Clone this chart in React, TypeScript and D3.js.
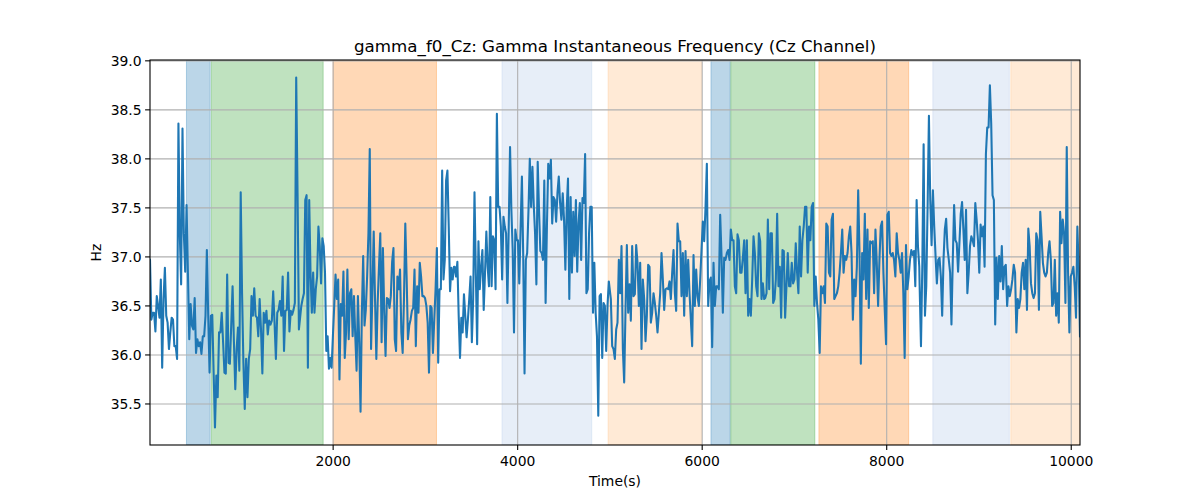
import { useEffect, useRef } from 'react';
import * as d3 from 'd3';

// Gamma f0 (Hz), muestreo uniforme dentro de cada tramo
const hzPart1 = [
  36.97, 36.36, 36.43, 36.43, 36.24, 36.6, 36.5, 36.38, 36.77, 35.87,
  36.57, 36.89, 36.4, 36.33, 36.06, 36.23, 36.38, 36.36, 36.09, 36.09,
  35.96, 38.36, 37.24, 36.72, 38.31, 37.24, 36.85, 37.53, 36.84, 36.16,
  36.52, 36.3, 36.26, 36.58, 36.02, 36.16, 36.09, 36.13, 36.01, 36.19,
  36.19, 36.4, 37.07, 36.4, 35.82, 36.4, 36.41, 35.82, 35.26, 35.79,
  35.57, 36.23, 36.23, 36.43, 36.13, 35.82, 35.81, 36.82, 35.92, 35.91,
  36.3, 36.7, 36.13, 35.65, 36.06, 36.28, 35.84, 37.66, 36.63, 35.92,
  35.45, 35.96, 35.57, 35.96, 36.06, 36.6, 36.4, 36.68, 36.4, 36.38,
  36.19, 36.57, 36.26, 35.81, 36.43, 36.33, 36.45, 36.21, 36.35, 36.31,
  36.35, 36.65, 36.33, 35.96, 36.43, 36.46, 36.55, 36.4, 36.8, 36.04,
  36.45, 36.46, 36.84, 36.24, 36.45, 36.41, 36.46, 36.53, 38.83, 37.65,
  36.26,
];
const hzPart2 = [
  36.5, 36.57, 36.63, 37.58, 37.63, 35.87, 37.58, 36.84, 36.43, 36.84,
  36.43, 36.67, 36.8, 37.31, 37.11, 36.73, 37.19, 37.11, 36.84, 36.04,
  36.19, 35.86, 35.97, 35.87, 36.19, 36.5, 36.82, 36.57, 36.77, 35.75,
  36.52, 36.4, 36.85, 35.97, 36.23, 36.87, 36.16, 36.63, 36.67, 36.19,
  36.6, 36.19, 35.84, 36.6, 36.13, 35.42, 36.43, 37.01, 36.3, 36.46,
  36.8, 37.24, 38.1, 36.06, 36.63, 37.26, 36.57, 35.96, 36.53, 36.9,
  37.24, 36.13, 37.09, 36.43, 35.99, 36.58, 36.57, 36.48, 36.6, 36.95,
  37.09, 36.16, 36.04, 36.8, 36.67, 36.87, 36.23, 36.02, 36.57, 37.34,
  36.8, 36.16, 36.3, 36.36, 36.45, 36.48, 36.87, 36.09, 36.7, 36.43,
  36.94, 36.8, 36.6, 36.6, 36.58, 36.5, 36.33, 35.82, 36.5, 36.48,
  36.02, 36.36, 36.67, 37.09, 35.92, 36.67, 36.67, 37.88, 36.77, 36.97,
  37.78, 37.88, 37.31, 36.65, 36.89, 36.77, 36.9,
];
const hzPart3 = [
  36.9, 36.8, 36.95, 36.4, 35.97, 36.38, 36.23, 36.62, 36.4, 36.18,
  36.36, 36.57, 36.8, 36.13, 36.57, 37.66, 36.84, 36.11, 37.16, 36.67,
  36.9, 37.07, 36.46, 36.84, 37.26, 36.9, 36.7, 37.61, 36.7, 37.21,
  37.17, 36.67, 38.46, 37.51, 37.51, 37.31, 36.77, 37.41, 37.31, 37.24,
  36.53, 37.31, 38.12, 37.48, 37.07, 36.23, 37.28, 37.17, 37.17, 36.73,
  37.29, 37.82, 37.01, 35.81, 36.97, 37.04, 37.48, 38.0, 37.51, 37.92,
  37.53, 37.24, 36.72, 37.97, 37.48, 37.06, 37.04, 36.97, 37.78, 36.53,
  37.31, 37.95, 37.8, 37.99, 37.34, 37.61, 37.58, 37.36, 37.65, 37.82,
  37.55, 37.38, 37.65, 37.38, 36.87, 37.48, 37.8, 36.57, 37.61, 36.84,
  37.46, 37.01, 37.58, 36.85, 37.34, 37.55, 36.97, 37.6, 37.55, 38.05,
  36.63, 36.67, 37.24, 37.51, 37.51, 36.43, 36.94, 36.43, 36.19, 35.38,
  36.6, 36.62, 35.97, 36.53, 36.5, 36.04, 36.5, 36.75,
];
const hzPart4 = [
  36.57, 36.09, 36.06, 35.96, 36.26, 36.33, 36.97, 36.63, 37.11, 36.06,
  35.72, 36.46, 37.12, 36.43, 36.72, 36.35, 37.11, 36.6, 36.62, 37.12,
  36.94, 36.5, 36.94, 36.06, 36.77, 36.57, 36.14, 36.4, 36.92, 36.9,
  36.33, 36.43, 36.63, 36.53, 36.4, 36.23, 36.43, 36.63, 37.04, 36.77,
  36.46, 36.67, 36.68, 36.67, 36.75, 36.57, 36.84, 37.07, 36.63, 36.45,
  37.34, 37.16, 37.16, 36.6, 37.04, 36.4, 37.06, 36.6, 36.97, 36.63,
  36.36, 36.09, 37.02, 36.5, 36.87, 36.6, 36.5, 36.77, 37.07, 37.36,
  37.16, 37.5, 37.95, 36.5, 36.75, 36.79, 36.08, 36.94, 36.5, 36.7,
  36.7, 36.67, 37.43, 37.01, 36.43, 36.99, 36.97, 37.04, 37.07, 36.97,
  37.28, 37.17, 37.17, 36.7, 36.63, 37.23, 37.17, 36.84, 36.84, 36.99,
  37.17, 36.63, 37.17, 36.4, 36.57, 36.4, 36.77, 37.21, 37.04, 36.7,
  36.6, 37.24, 37.16, 36.57, 36.73, 36.57,
];
const hzPart5 = [
  36.58, 36.63, 37.38, 36.67, 37.24, 37.24, 36.53, 36.57, 36.77, 37.44,
  36.7, 36.9, 36.38, 37.07, 37.06, 36.38, 36.7, 37.04, 36.7, 36.7,
  36.94, 36.73, 36.77, 37.14, 36.84, 36.63, 37.31, 36.8, 37.17, 37.31,
  37.51, 37.51, 36.84, 37.31, 37.17, 37.51, 37.55, 36.5, 36.8, 36.53,
  36.36, 36.02, 36.7, 36.63, 36.7, 36.53, 37.34, 37.31, 36.84, 36.8,
  37.38, 37.44, 36.57, 36.6, 36.63, 36.7, 36.84, 37.04, 37.28, 36.84,
  37.01, 36.97, 37.04, 37.21, 37.31, 37.04, 36.36, 36.77, 36.6, 36.9,
  37.68, 37.04, 35.91, 37.04, 36.77, 37.44, 36.57, 37.28, 36.48, 37.16,
  37.14, 37.16, 36.63, 37.28, 36.94, 36.5, 36.97, 37.31, 37.36, 36.84,
  36.46, 36.11, 37.43, 37.46, 37.04, 37.01, 37.04, 36.97, 36.8, 37.24,
  37.04, 36.97, 36.84, 37.04, 36.63, 35.97, 37.12, 36.67, 36.8, 36.97,
  37.07, 37.02, 37.06, 36.7, 37.58, 37.11, 36.9,
];
const hzPart6 = [
  36.7, 36.09, 36.9, 38.15, 36.4, 36.7, 37.51, 38.44, 37.58,
  37.12, 37.68, 37.31, 37.01, 36.73, 36.97, 36.99, 36.8, 36.4, 36.97,
  37.28, 37.39, 37.09, 36.97, 36.84, 36.31, 36.97, 37.53, 37.17, 37.14,
  36.85, 37.14, 37.44, 37.56, 37.28, 36.97, 37.48, 36.63, 36.84, 37.11,
  37.21, 37.17, 37.11, 37.55, 37.38, 37.17, 36.84, 37.33, 37.21, 37.31,
  36.9, 38.05, 38.32, 38.32, 38.75, 38.36, 37.63, 37.58, 36.31, 36.99,
  36.57, 37.01, 36.75, 37.11, 36.67, 36.9, 36.92, 36.5, 36.7, 36.6,
  36.67, 36.77, 36.92, 36.84, 36.23, 36.57, 36.48, 36.57, 36.84, 36.94,
  36.67, 36.97, 36.46, 37.29, 37.11, 36.73, 36.63, 36.58, 36.63, 37.24,
  37.17, 36.46, 37.46, 37.21, 36.94, 36.84, 36.8, 36.84, 37.04, 37.16,
  36.97, 36.5, 36.53, 36.97, 36.4, 36.63, 36.33, 37.46, 37.14, 37.38,
  37.24, 36.53, 38.12, 36.84, 36.23, 36.8, 36.84, 36.9, 36.7, 36.38,
  37.31, 36.9, 36.19,
];

// Primer y último instante (s) de cada tramo de muestras
const partStartTimes = [15, 1655, 3318, 5010, 6683, 8357];
const partEndTimes = [1629, 3310, 4988, 6672, 8353, 10095];

// Tramos sombreados (s)
const spanStarts = [410, 680, 2000, 3830, 4980, 6095, 6310, 7265, 8500, 9345];
const spanEnds = [667, 1892, 3120, 4803, 5992, 6303, 7221, 8238, 9329, 10095];
const spanColors = [
  '#1f77b4', '#2ca02c', '#ff7f0e', '#aec7e8', '#ffbb78',
  '#1f77b4', '#2ca02c', '#ff7f0e', '#aec7e8', '#ffbb78',
];

const xTicks = [2000, 4000, 6000, 8000, 10000];
const yTicks = [35.5, 36.0, 36.5, 37.0, 37.5, 38.0, 38.5, 39.0];

const TITLE = 'gamma_f0_Cz: Gamma Instantaneous Frequency (Cz Channel)';

const App = () => {
  const svgRef = useRef<SVGSVGElement>(null);

  useEffect(() => {
    if (!svgRef.current) return;
    const width = 1200;
    const height = 500;
    const m = { left: 150, right: 1080, top: 60, bottom: 445 };
    const font = 'DejaVu Sans, sans-serif';

    const parts = [hzPart1, hzPart2, hzPart3, hzPart4, hzPart5, hzPart6];
    const times: number[] = [];
    const hz: number[] = [];
    parts.forEach((p, k) => {
      const t0 = partStartTimes[k];
      const t1 = partEndTimes[k];
      p.forEach((v, i) => {
        times.push(t0 + (i * (t1 - t0)) / (p.length - 1));
        hz.push(v);
      });
    });

    const svg = d3.select(svgRef.current);
    svg.selectAll('*').remove();
    svg.attr('viewBox', `0 0 ${width} ${height}`);

    const x = d3.scaleLinear().domain(d3.extent(times) as [number, number]).range([m.left, m.right]);
    const [lo, hi] = d3.extent(hz) as [number, number];
    const pad = (hi - lo) * 0.05;
    const y = d3.scaleLinear().domain([lo - pad, hi + pad]).range([m.bottom, m.top]);

    svg.append('rect').attr('width', width).attr('height', height).attr('fill', '#fff');

    const clip = svg.append('clipPath').attr('id', 'plot-clip');
    clip.append('rect')
      .attr('x', m.left).attr('y', m.top)
      .attr('width', m.right - m.left).attr('height', m.bottom - m.top);

    const plot = svg.append('g').attr('clip-path', 'url(#plot-clip)');

    // axvspan
    plot.selectAll('rect.span')
      .data(spanStarts.map((s, i) => ({ s, e: spanEnds[i], c: spanColors[i] })))
      .join('rect')
      .attr('class', 'span')
      .attr('x', (d) => x(d.s))
      .attr('y', m.top)
      .attr('width', (d) => x(d.e) - x(d.s))
      .attr('height', m.bottom - m.top)
      .attr('fill', (d) => d.c)
      .attr('fill-opacity', 0.3)
      .attr('stroke', (d) => d.c)
      .attr('stroke-opacity', 0.3)
      .attr('stroke-width', 1);

    // grid
    plot.selectAll('line.gx')
      .data(xTicks)
      .join('line')
      .attr('x1', (d) => x(d)).attr('x2', (d) => x(d))
      .attr('y1', m.top).attr('y2', m.bottom)
      .attr('stroke', '#b0b0b0').attr('stroke-width', 1.1);
    plot.selectAll('line.gy')
      .data(yTicks)
      .join('line')
      .attr('x1', m.left).attr('x2', m.right)
      .attr('y1', (d) => y(d)).attr('y2', (d) => y(d))
      .attr('stroke', '#b0b0b0').attr('stroke-width', 1.1);

    const line = d3.line<number>()
      .x((_, i) => x(times[i]))
      .y((d) => y(d));
    plot.append('path')
      .attr('d', line(hz) ?? '')
      .attr('fill', 'none')
      .attr('stroke', '#1f77b4')
      .attr('stroke-width', 2.08)
      .attr('stroke-linejoin', 'round')
      .attr('stroke-linecap', 'square');

    // spines
    svg.append('rect')
      .attr('x', m.left).attr('y', m.top)
      .attr('width', m.right - m.left).attr('height', m.bottom - m.top)
      .attr('fill', 'none').attr('stroke', '#000').attr('stroke-width', 1.1);

    // ticks
    xTicks.forEach((t) => {
      svg.append('line')
        .attr('x1', x(t)).attr('x2', x(t))
        .attr('y1', m.bottom).attr('y2', m.bottom + 4.9)
        .attr('stroke', '#000').attr('stroke-width', 1.1);
      svg.append('text')
        .attr('x', x(t)).attr('y', m.bottom + 20.5)
        .attr('text-anchor', 'middle')
        .style('font-family', font).style('font-size', '13.9px')
        .attr('fill', '#000')
        .text(`${t}`);
    });
    yTicks.forEach((t) => {
      svg.append('line')
        .attr('x1', m.left - 4.9).attr('x2', m.left)
        .attr('y1', y(t)).attr('y2', y(t))
        .attr('stroke', '#000').attr('stroke-width', 1.1);
      svg.append('text')
        .attr('x', m.left - 8.4).attr('y', y(t))
        .attr('dy', '0.36em')
        .attr('text-anchor', 'end')
        .style('font-family', font).style('font-size', '13.9px')
        .attr('fill', '#000')
        .text(t.toFixed(1));
    });

    svg.append('text')
      .attr('x', (m.left + m.right) / 2).attr('y', 52)
      .attr('text-anchor', 'middle')
      .style('font-family', font).style('font-size', '16.7px')
      .attr('fill', '#000')
      .text(TITLE);

    svg.append('text')
      .attr('x', (m.left + m.right) / 2).attr('y', 486)
      .attr('text-anchor', 'middle')
      .style('font-family', font).style('font-size', '13.9px')
      .attr('fill', '#000')
      .text('Time(s)');

    svg.append('text')
      .attr('transform', `translate(101,${(m.top + m.bottom) / 2}) rotate(-90)`)
      .attr('text-anchor', 'middle')
      .style('font-family', font).style('font-size', '13.9px')
      .attr('fill', '#000')
      .text('Hz');
  }, []);

  return (
    <div style={{ position: 'absolute', left: 0, top: 0 }}>
      <svg ref={svgRef} width={1200} height={500} style={{ display: 'block' }} />
    </div>
  );
};

export default App;
